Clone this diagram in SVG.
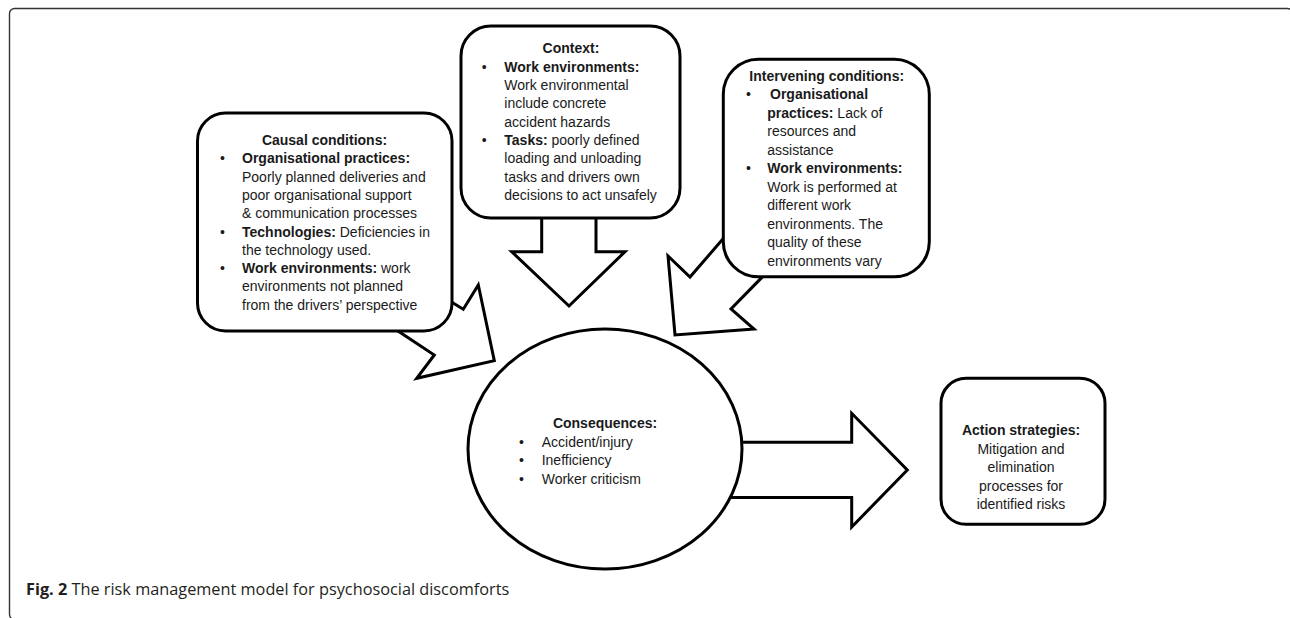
<svg xmlns="http://www.w3.org/2000/svg" width="1290" height="618" viewBox="0 0 1290 618">
<style>
.box{fill:#fff;stroke:#000;stroke-width:3}
.arr{fill:#fff;stroke:#000;stroke-width:3;stroke-linejoin:miter}
text{font-family:"Liberation Sans",Arial,sans-serif;font-size:14px;fill:#1a1a1a}
.b{font-weight:bold}
.c{text-anchor:middle}
.cap{font-family:"Open Sans","Liberation Sans",sans-serif;font-size:16.3px;fill:#231f20}
</style>
<rect x="9.5" y="8.5" width="1283" height="611" rx="5" fill="#fff" stroke="#333" stroke-width="1.4"/>
<g id="connectors">
<polygon class="arr" points="440,295 463.3,309.3 478.3,285 494.3,360.7 416.7,378.3 434.3,355 389,325"/>
<polygon class="arr" points="541.7,210 541.7,251.7 511.7,251.7 569,306 625,251.7 596,251.7 596,210"/>
<polygon class="arr" points="735,225 690,277 668,256 675,335 754,329 731,309 775,264"/>
<polygon class="arr" points="700,442.3 851.7,442.3 851.7,413.3 907.3,470 851.7,527 851.7,497.5 700,497.5"/>
</g>
<g id="causal">
<rect class="box" x="197.5" y="113" width="254.5" height="218" rx="28"/>
<text class="b c" x="324.5" y="145">Causal conditions:</text>
<text x="220" y="163.3">•</text><text class="b" x="242" y="163.3">Organisational practices:</text>
<text x="242" y="181.6">Poorly planned deliveries and</text>
<text x="242" y="199.9">poor organisational support</text>
<text x="242" y="218.2">&amp; communication processes</text>
<text x="220" y="236.5">•</text><text x="242" y="236.5"><tspan class="b">Technologies:</tspan> Deficiencies in</text>
<text x="242" y="254.8">the technology used.</text>
<text x="220" y="273.1">•</text><text x="242" y="273.1"><tspan class="b">Work environments:</tspan> work</text>
<text x="242" y="291.4">environments not planned</text>
<text x="242" y="309.7">from the drivers’ perspective</text>
</g>
<g id="context">
<rect class="box" x="461" y="26" width="219" height="192" rx="30"/>
<text class="b c" x="571" y="53.3">Context:</text>
<text x="481.7" y="71.7">•</text><text class="b" x="504.3" y="71.7">Work environments:</text>
<text x="504.3" y="90">Work environmental</text>
<text x="504.3" y="108.3">include concrete</text>
<text x="504.3" y="126.7">accident hazards</text>
<text x="481.7" y="145">•</text><text x="504.3" y="145"><tspan class="b">Tasks:</tspan> poorly defined</text>
<text x="504.3" y="163.3">loading and unloading</text>
<text x="504.3" y="181.7">tasks and drivers own</text>
<text x="504.3" y="200">decisions to act unsafely</text>
</g>
<g id="intervening">
<rect class="box" x="723.3" y="59.3" width="206" height="217.4" rx="35"/>
<text class="b c" x="826.7" y="80.5">Intervening conditions:</text>
<text x="746" y="99">•</text><text class="b" x="770" y="99">Organisational</text>
<text x="767.3" y="117.5"><tspan class="b">practices:</tspan> Lack of</text>
<text x="767.3" y="136">resources and</text>
<text x="767.3" y="154.5">assistance</text>
<text x="746" y="173">•</text><text class="b" x="767.3" y="173">Work environments:</text>
<text x="767.3" y="191.5">Work is performed at</text>
<text x="767.3" y="210">different work</text>
<text x="767.3" y="228.5">environments. The</text>
<text x="767.3" y="247">quality of these</text>
<text x="767.3" y="265.5">environments vary</text>
</g>
<g id="consequences">
<ellipse class="box" cx="605" cy="449" rx="137" ry="120"/>
<text class="b c" x="605" y="428.3">Consequences:</text>
<text x="519" y="446.7">•</text><text x="541.7" y="446.7">Accident/injury</text>
<text x="519" y="465">•</text><text x="541.7" y="465">Inefficiency</text>
<text x="519" y="483.5">•</text><text x="541.7" y="483.5">Worker criticism</text>
</g>
<g id="action">
<rect class="box" x="941" y="378.3" width="164" height="146" rx="25"/>
<text class="b c" x="1021" y="435">Action strategies:</text>
<text class="c" x="1021" y="453.5">Mitigation and</text>
<text class="c" x="1021" y="472">elimination</text>
<text class="c" x="1021" y="490.5">processes for</text>
<text class="c" x="1021" y="509">identified risks</text>
</g>
<g id="caption">
<text class="cap" x="26" y="595"><tspan font-weight="bold">Fig. 2</tspan> The risk management model for psychosocial discomforts</text>
</g>
</svg>
